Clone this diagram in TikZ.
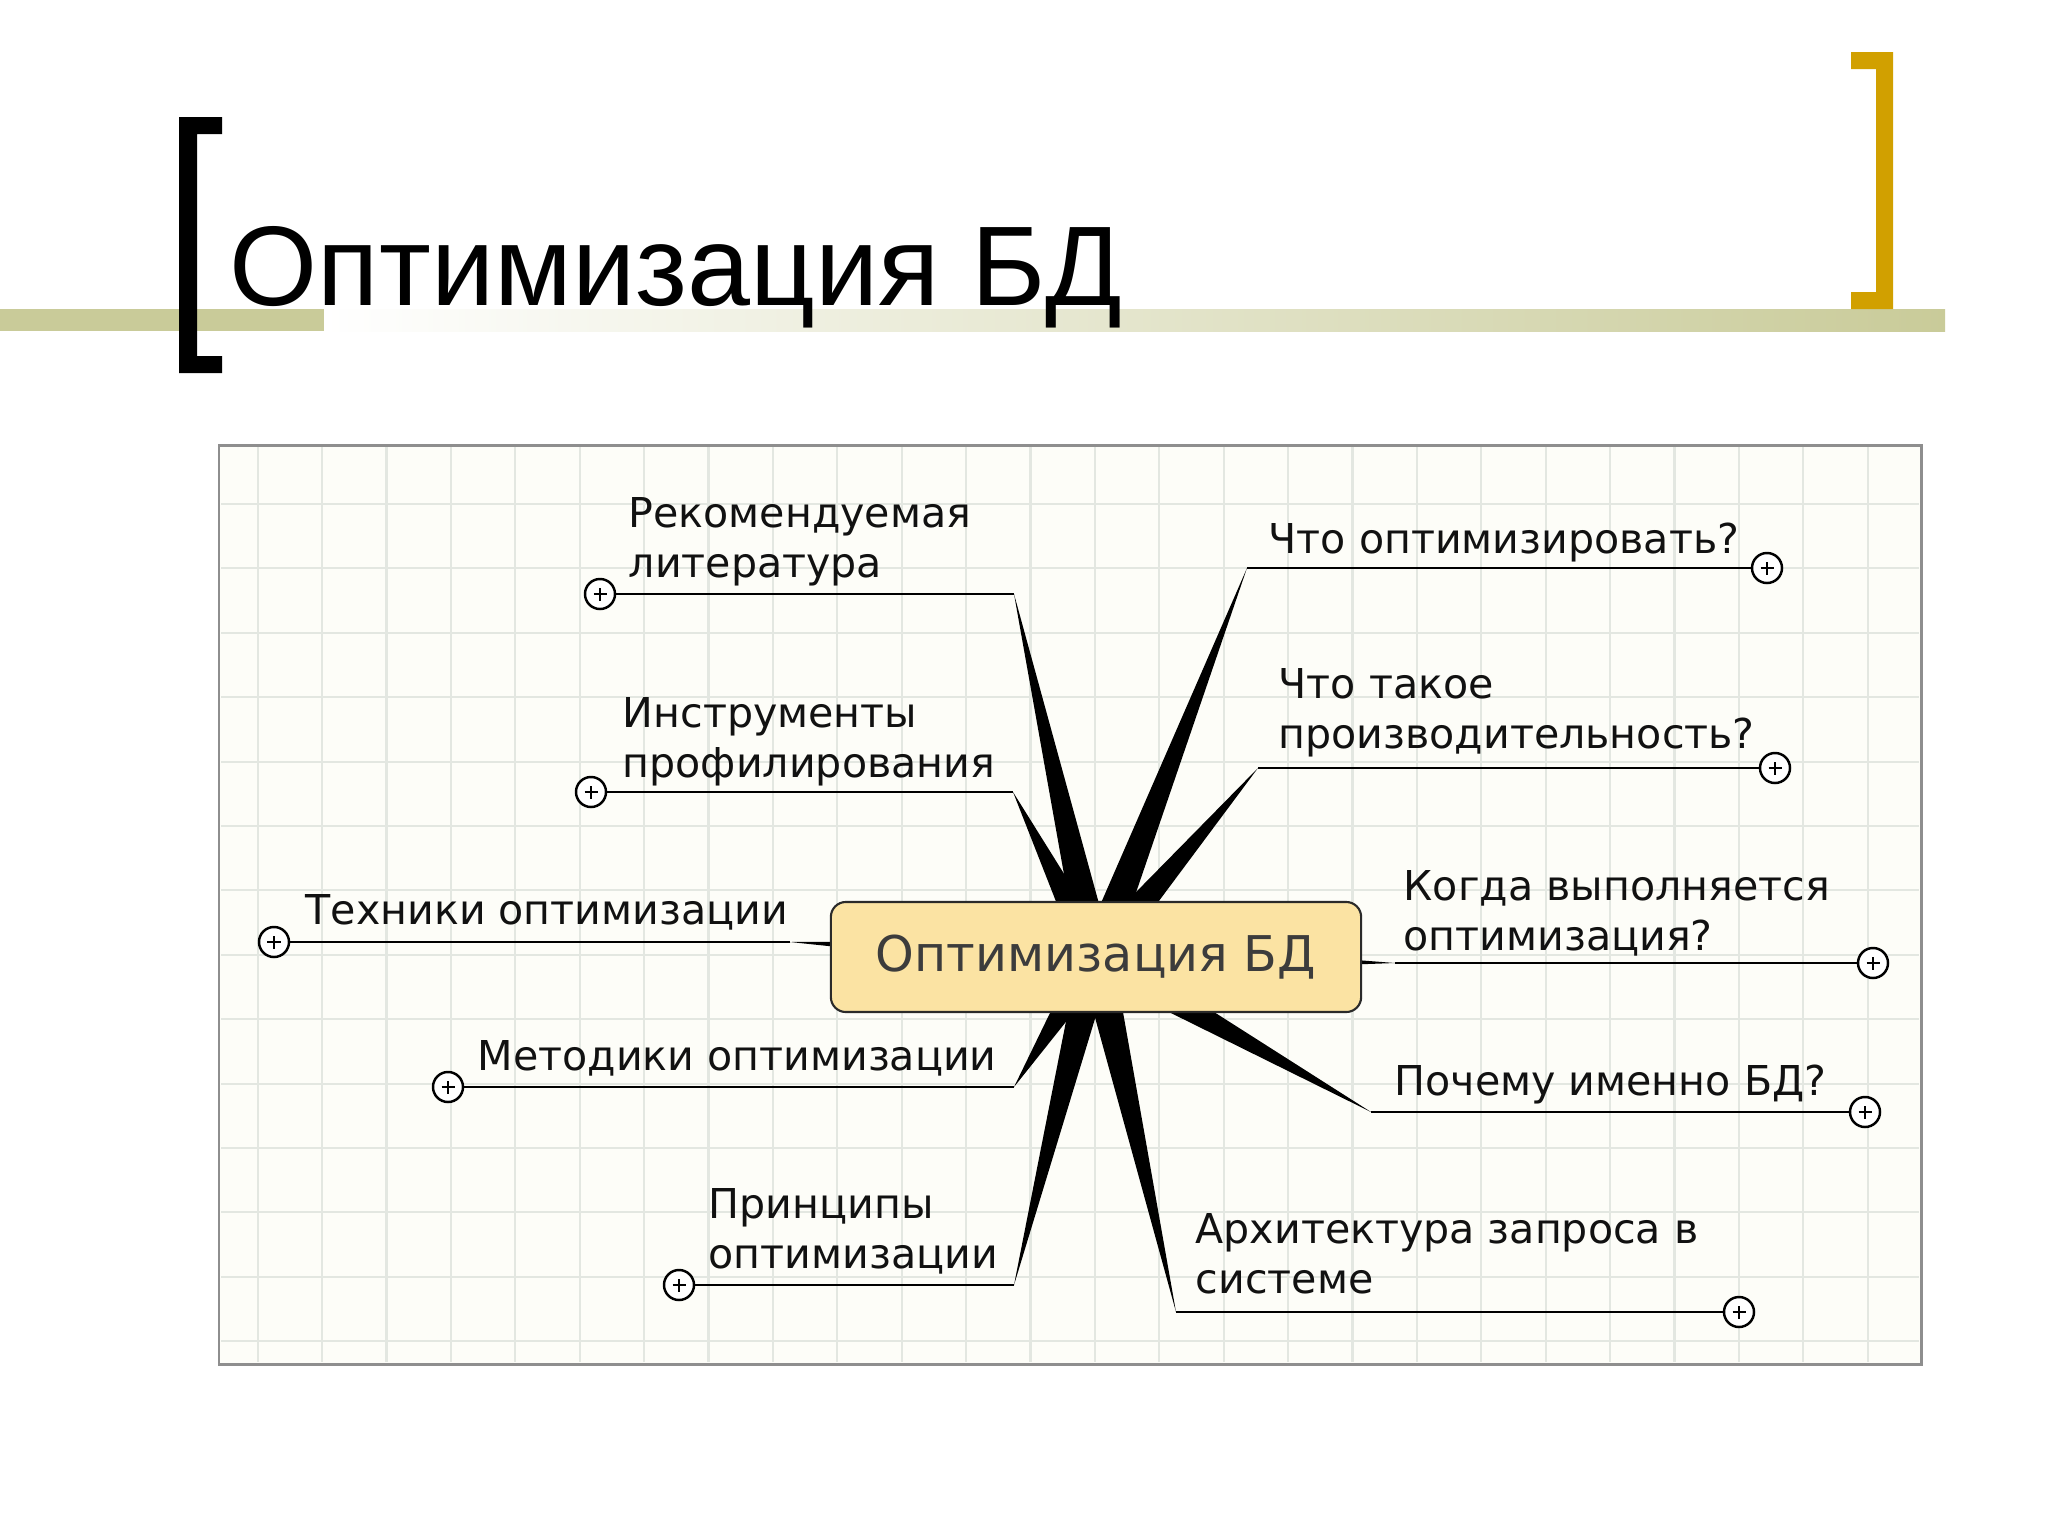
\documentclass[tikz,border=0pt]{standalone}
\usepackage{fontspec}
\setmainfont{Liberation Sans}
\newfontfamily\mapfont{DejaVu Sans}
\usepackage{tikz}
\usetikzlibrary{calc}
\definecolor{ink}{HTML}{111111}
\definecolor{rootink}{HTML}{3C3C3C}
\definecolor{rootedge}{HTML}{2A2A2A}
\definecolor{rootfill}{HTML}{FBE3A3}
\definecolor{paper}{HTML}{FDFDF8}
\definecolor{gridc}{HTML}{E3E7E1}
\definecolor{frame}{HTML}{8E8E8E}
\definecolor{olive}{HTML}{C9CB99}
\definecolor{gold}{HTML}{D1A000}
\tikzset{
  panel/.style={draw=frame, fill=paper, line width=0.85pt},
  gridln/.style={draw=gridc, line width=0.6pt},
  spike/.style={fill=black},
  twig/.style={draw=black, line width=0.8pt},
  root/.style={draw=rootedge, fill=rootfill, line width=0.6pt, rounded corners=0.15cm,
    minimum width=5.3cm, minimum height=1.1cm, text=rootink,
    font=\mapfont\fontsize{14}{16}\selectfont},
  lab/.style={text=ink, font=\mapfont\fontsize{11.7}{14.2}\selectfont, align=left, inner sep=0pt},
  plus/.style={circle, draw=black, fill=white, line width=0.7pt, minimum size=0.3cm, inner sep=0pt,
    path picture={\draw[line width=0.6pt]
      ([xshift=-0.065cm]path picture bounding box.center) -- ([xshift=0.065cm]path picture bounding box.center)
      ([yshift=-0.065cm]path picture bounding box.center) -- ([yshift=0.065cm]path picture bounding box.center);}},
  title/.style={text=black, font=\fontsize{32.2}{38}\selectfont, inner sep=0pt},
}
\begin{document}
\begin{tikzpicture}[x=0.01cm, y=-0.01cm]
\useasboundingbox (0,0) rectangle (2048,1536);
\fill[white] (0,0) rectangle (2048,1536);

% header band, brackets, title
\fill[olive] (0,309) rectangle (324,331);
\shade[left color=white, right color=olive] (324,309) rectangle (1945,331);
\fill[black] (179,117) -- (222,117) -- (222,134) -- (197,134) -- (197,356) -- (222,356)
  -- (222,373) -- (179,373) -- cycle;
\fill[gold] (1893,52) -- (1851,52) -- (1851,69) -- (1876,69) -- (1876,292) -- (1851,292)
  -- (1851,309) -- (1893,309) -- cycle;
\node[title, anchor=base west] (ttl) at (229,305) {Оптимизация БД};

% map panel with grid
\draw[panel] (219,445) rectangle (1921,1364);
\foreach \gx in {0,...,25}
  \draw[gridln] ({257.7+64.4*\gx},447) -- ({257.7+64.4*\gx},1362);
\foreach \gy in {0,...,13}
  \draw[gridln] (221,{504+64.4*\gy}) -- (1919,{504+64.4*\gy});

\coordinate (rc) at (1096,957);
\foreach \n/\lx/\ly/\kx/\ky/\px/\txt in {
  a/628/577/1014/594/600/{Рекомендуемая\\литература},
  b/622/777/1013/792/591/{Инструменты\\профилирования},
  c/305/924/790/942/274/{Техники оптимизации},
  d/477/1070/1014/1087/448/{Методики оптимизации},
  e/708/1268/1014/1285/679/{Принципы\\оптимизации},
  f/1268/553/1247/568/1767/{Что оптимизировать?},
  g/1278/748/1258/768/1775/{Что такое\\производительность?},
  h/1403/950/1395/963/1873/{Когда выполняется\\оптимизация?},
  i/1394/1095/1371/1112/1865/{Почему именно БД?},
  j/1195/1293/1176/1312/1739/{Архитектура запроса в\\системе}}{
  \coordinate (k\n) at (\kx,\ky);
  \fill[spike] ($(rc)!0.17cm!90:(k\n)$) -- (k\n) -- ($(rc)!0.17cm!-90:(k\n)$) -- cycle;
  \node[plus] (p\n) at (\px,\ky) {};
  \draw[twig] (k\n) -- (p\n);
  \node[lab, anchor=base west] (lab\n) at (\lx,\ly) {\txt};
}

\node[root] (root) at (rc) {Оптимизация БД};
\end{tikzpicture}
\end{document}
